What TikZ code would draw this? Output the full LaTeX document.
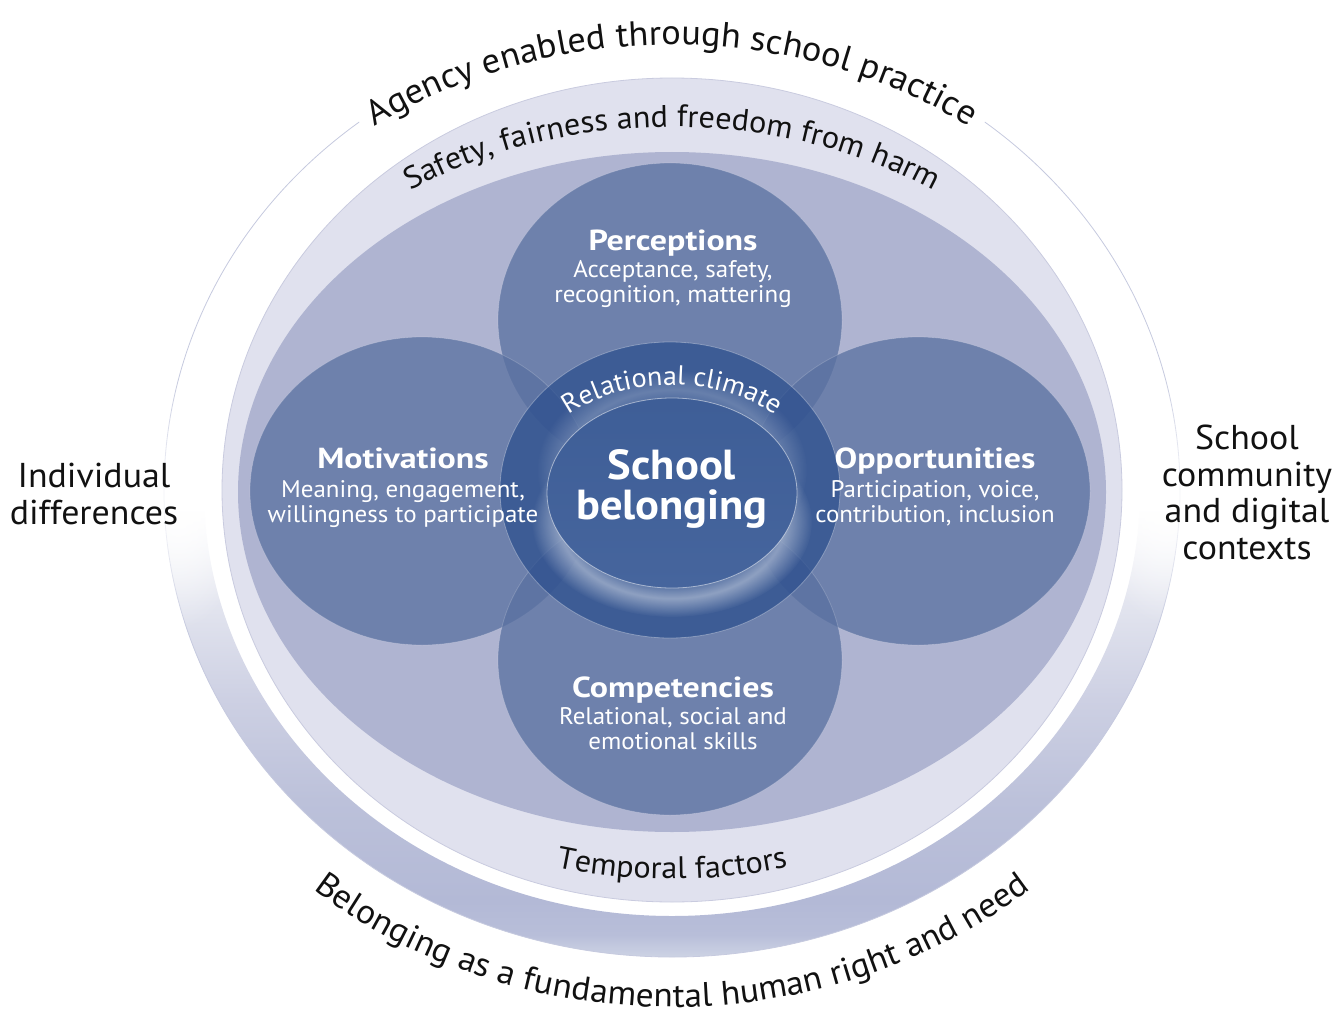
\documentclass[tikz,border=0pt]{standalone}
\usepackage{fontspec}
\setmainfont[FakeStretch=1.04]{PT Sans}
\setsansfont[FakeStretch=1.04]{PT Sans}
\newfontfamily\titlefam[FakeStretch=1.17]{PT Sans}
\newfontfamily\corefam[FakeStretch=1.06]{PT Sans}
\usetikzlibrary{decorations.text,fadings}

% palette
\definecolor{bandlight}{HTML}{E0E1EE}
\definecolor{bandedge}{HTML}{C9CBDF}
\definecolor{bandmid}{HTML}{AFB4D1}
\definecolor{petalc}{HTML}{5970A0}
\definecolor{ringc}{HTML}{2B4E8D}
\definecolor{corec}{HTML}{3E5E97}
\definecolor{corelow}{HTML}{46659D}
\definecolor{inkc}{HTML}{111111}
\definecolor{rimline}{HTML}{C6CADF}
\definecolor{ringA}{HTML}{CDD3E4}
\definecolor{ringB}{HTML}{B8BED9}
\definecolor{ringC}{HTML}{B3B9D6}
\definecolor{ringD}{HTML}{BCC1DA}
\definecolor{ringE}{HTML}{CDD0E3}
\definecolor{ringF}{HTML}{E3E5EF}

% outer rim: white above the middle, lavender towards the bottom
\pgfdeclareverticalshading{rimshade}{100bp}{%
  color(0bp)=(ringA); color(25bp)=(ringA); color(26.2bp)=(ringB);
  color(28bp)=(ringC); color(33.4bp)=(ringD); color(38.8bp)=(ringE);
  color(44bp)=(ringF); color(49bp)=(white); color(100bp)=(white)}

% radial fading: opaque centre, transparent edge
\tikzfading[name=softglow, inner color=transparent!0, outer color=transparent!100]

% radial fading that is opaque only in a band near the rim
\pgfdeclareradialshading{haloshade}{\pgfpointorigin}{%
  color(0bp)=(pgftransparent!100); color(15bp)=(pgftransparent!100);
  color(20bp)=(pgftransparent!0); color(25bp)=(pgftransparent!100);
  color(50bp)=(pgftransparent!100)}
\pgfdeclarefading{haloring}{\pgfuseshading{haloshade}}

\newcommand\fouter{\fontsize{35}{37}\selectfont}
\newcommand\fbottom{\fontsize{34}{36}\selectfont}
\newcommand\fside{\fontsize{34.5}{36}\selectfont}
\newcommand\fsafety{\fontsize{31}{33}\selectfont}
\newcommand\ftemporal{\fontsize{31}{33}\selectfont}
\newcommand\frelational{\fontsize{27}{29}\selectfont}
\newcommand\fpetal{\titlefam\bfseries\fontsize{29}{31}\selectfont}
\newcommand\fsub{\fontsize{24}{26}\selectfont}
\newcommand\fcore{\corefam\bfseries\fontsize{42}{44}\selectfont}

\tikzset{
  sidetext/.style={anchor=base, text=inkc, font=\fside},
  petaltitle/.style={anchor=base, text=white, font=\fpetal},
  petalsub/.style={anchor=base, text=white, font=\fsub},
  coretext/.style={anchor=base, text=white, font=\fcore},
  petal/.style={fill=petalc, fill opacity=0.75, draw=white, draw opacity=0.18, line width=0.8pt},
  halo/.style={fill=white, fill opacity=#1, path fading=haloring},
  arctext/.style={decorate, decoration={text along path, text align=center, text={#1}}}
}

\begin{document}
\begin{tikzpicture}[x=1pt,y=1pt]
\useasboundingbox (0,0) rectangle (1336,-1014);
\coordinate (O) at (672,-490);

% outer rim with its soft gradient
\shade[shading=rimshade, even odd rule] (O) ellipse (508pt and 467pt) (O) ellipse (468pt and 426pt);
\draw[rimline, line width=0.8pt] (O) ++(128:508pt and 467pt)
  arc[start angle=128, end angle=412, x radius=508pt, y radius=467pt];

% white haze behind the side labels
\fill[white, path fading=softglow] (178,-505) ellipse (70pt and 125pt);
\fill[white, path fading=softglow] (1166,-500) ellipse (70pt and 125pt);

% bands
\fill[bandlight, draw=bandedge, line width=0.8pt] (O) ellipse (450pt and 412pt);
\fill[bandmid] (672,-492) ellipse (434pt and 340pt);

% four overlapping petals
\path[petal] (670,-320) ellipse (172pt and 157pt);
\path[petal] (422,-491) ellipse (172pt and 154pt);
\path[petal] (918,-491) ellipse (172pt and 154pt);
\path[petal] (670,-660) ellipse (172pt and 155pt);

% relational climate ring
\path[fill=ringc, fill opacity=0.72, draw=white, draw opacity=0.3, line width=0.8pt]
  (670,-490) ellipse (170pt and 148pt);
% soft light around the core, strongest below it
\begin{scope}
  \clip (670,-490) ellipse (170pt and 148pt);
  \path[halo=0.42] (672,-522) ellipse (140pt and 95pt);
  \path[halo=0.22] (672,-470) ellipse (135pt and 100pt);
\end{scope}

% school belonging core
\shade[top color=corec, bottom color=corelow, draw=white, draw opacity=0.5, line width=0.8pt]
  (672,-493) ellipse (125pt and 95pt);

% curved captions
\path[arctext={|\fouter\color{inkc}|Agency enabled through school practice}]
  (O) ++(150:515pt and 445pt) arc[start angle=150, end angle=30, x radius=515pt, y radius=445pt];
\path[arctext={|\fsafety\color{inkc}|Safety, fairness and freedom from harm}]
  (O) ++(150:462pt and 363pt) arc[start angle=150, end angle=30, x radius=462pt, y radius=363pt];
\path[arctext={|\frelational\color{white}|Relational climate}]
  (672,-493) ++(165:150pt and 108pt) arc[start angle=165, end angle=15, x radius=150pt, y radius=108pt];
\path[arctext={|\ftemporal\color{inkc}|Temporal factors}]
  (O) ++(235:470pt and 389pt) arc[start angle=235, end angle=305, x radius=470pt, y radius=389pt];
\path[arctext={|\fbottom\color{inkc}|Belonging as a fundamental human right and need}]
  (O) ++(210:565pt and 517pt) arc[start angle=210, end angle=330, x radius=565pt, y radius=517pt];

% side labels
\node[sidetext] (ind1) at (94,-487) {Individual};
\node[sidetext] (ind2) at (94,-524) {differences};
\node[sidetext] (sch1) at (1247,-449) {School};
\node[sidetext] (sch2) at (1247,-486) {community};
\node[sidetext] (sch3) at (1247,-522) {and digital};
\node[sidetext] (sch4) at (1247,-559) {contexts};

% petal labels
\node[petaltitle] (perT) at (673,-250) {Perceptions};
\node[petalsub] (perA) at (673,-277) {Acceptance, safety,};
\node[petalsub] (perB) at (673,-302) {recognition, mattering};

\node[petaltitle] (motT) at (403,-468) {Motivations};
\node[petalsub] (motA) at (403,-497) {Meaning, engagement,};
\node[petalsub] (motB) at (403,-522) {willingness to participate};

\node[petaltitle] (oppT) at (935,-468) {Opportunities};
\node[petalsub] (oppA) at (935,-497) {Participation, voice,};
\node[petalsub] (oppB) at (935,-522) {contribution, inclusion};

\node[petaltitle] (comT) at (673,-697) {Competencies};
\node[petalsub] (comA) at (673,-724) {Relational, social and};
\node[petalsub] (comB) at (673,-749) {emotional skills};

% core label
\node[coretext] (core1) at (672,-479) {School};
\node[coretext] (core2) at (672,-519) {belonging};
\end{tikzpicture}
\end{document}
